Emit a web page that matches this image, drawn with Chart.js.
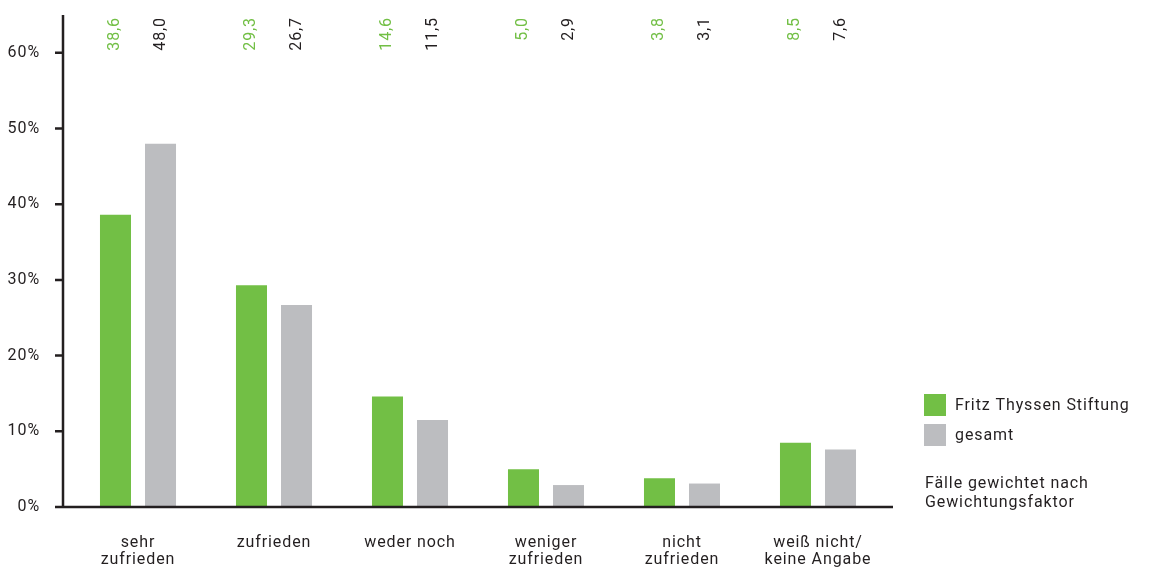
<!DOCTYPE html>
<html>
<head>
<meta charset="utf-8">
<script src="https://cdn.jsdelivr.net/npm/chart.js@4"></script>
<style>
  html, body { margin:0; padding:0; background:#fff; }
  #wrap { width:1151px; height:568px; position:relative; }
</style>
</head>
<body>
<div id="wrap"><canvas id="c" width="1151" height="568"></canvas></div>
<script>
const categories = [['sehr','zufrieden'], 'zufrieden', 'weder noch', ['weniger','zufrieden'], ['nicht','zufrieden'], ['weiß nicht/','keine Angabe']];
const seriesNames = ['Fritz Thyssen Stiftung', 'gesamt'];
const ftsValues = [38.6, 29.3, 14.6, 5.0, 3.8, 8.5];
const gesamtValues = [48.0, 26.7, 11.5, 2.9, 3.1, 7.6];
const yTicks = [0, 10, 20, 30, 40, 50, 60];
const noteLines = ['Fälle gewichtet nach', 'Gewichtungsfaktor'];

const GREEN = '#72bf45';
const GREY = '#bcbdc0';
const INK = '#231f20';
const FONT = 'Roboto, "DejaVu Sans", sans-serif';
const SPACING = '0.9px';

// etwas Laufweite fuer alle Texte im Canvas
const spacing = {
  id: 'spacing',
  beforeDraw(chart) { chart.ctx.letterSpacing = SPACING; }
};

// achsen, wertbeschriftung oben, legende rechts
const decor = {
  id: 'decor',
  afterDatasetsDraw(chart) {
    const ctx = chart.ctx;
    const area = chart.chartArea;
    const y = chart.scales.y;
    ctx.save();
    ctx.letterSpacing = SPACING;
    ctx.strokeStyle = INK;
    ctx.lineWidth = 2.5;
    ctx.beginPath();
    ctx.moveTo(63, area.top);
    ctx.lineTo(63, area.bottom);
    ctx.moveTo(62, area.bottom);
    ctx.lineTo(893, area.bottom);
    yTicks.forEach(v => {
      const py = y.getPixelForValue(v);
      ctx.moveTo(55, py);
      ctx.lineTo(63, py);
    });
    ctx.stroke();

    ctx.font = '16px ' + FONT;
    ctx.textBaseline = 'middle';
    ctx.textAlign = 'right';
    chart.data.datasets.forEach((ds, di) => {
      const meta = chart.getDatasetMeta(di);
      meta.data.forEach((bar, i) => {
        ctx.save();
        ctx.translate(bar.x, 17);
        ctx.rotate(-Math.PI / 2);
        ctx.fillStyle = di === 0 ? GREEN : INK;
        ctx.fillText(ds.data[i].toFixed(1).replace('.', ','), 0, 0);
        ctx.restore();
      });
    });

    ctx.textAlign = 'left';
    chart.data.datasets.forEach((ds, di) => {
      const top = 394 + di * 30;
      ctx.fillStyle = ds.backgroundColor;
      ctx.fillRect(924, top, 22, 22);
      ctx.fillStyle = INK;
      ctx.fillText(ds.label, 955, top + 12);
    });
    noteLines.forEach((t, i) => ctx.fillText(t, 925, 484 + i * 19));
    ctx.restore();
  }
};

new Chart(document.getElementById('c'), {
  type: 'bar',
  data: {
    labels: categories,
    datasets: [
      { label: seriesNames[0], data: ftsValues, backgroundColor: GREEN },
      { label: seriesNames[1], data: gesamtValues, backgroundColor: GREY }
    ]
  },
  options: {
    responsive: false,
    animation: false,
    devicePixelRatio: 1,
    layout: { padding: { top: 15, right: 265, left: 0, bottom: 0 } },
    datasets: { bar: { categoryPercentage: 0.662, barPercentage: 0.689 } },
    plugins: { legend: { display: false }, tooltip: { enabled: false } },
    scales: {
      x: {
        grid: { display: false },
        border: { display: false },
        ticks: { color: INK, font: { family: FONT, size: 16, lineHeight: 1.1 }, padding: 19, maxRotation: 0 },
        afterFit(s) { s.height = 61; s.paddingLeft = 0; s.paddingRight = 0; }
      },
      y: {
        min: 0, max: 65,
        grid: { display: false },
        border: { display: false },
        afterBuildTicks(s) { s.ticks = yTicks.map(v => ({ value: v })); },
        afterFit(s) { s.width = 70; s.paddingTop = 0; s.paddingBottom = 0; },
        ticks: { color: INK, font: { family: FONT, size: 16 }, padding: 22, callback: v => v + '%' }
      }
    }
  },
  plugins: [spacing, decor]
});
</script>
</body>
</html>
